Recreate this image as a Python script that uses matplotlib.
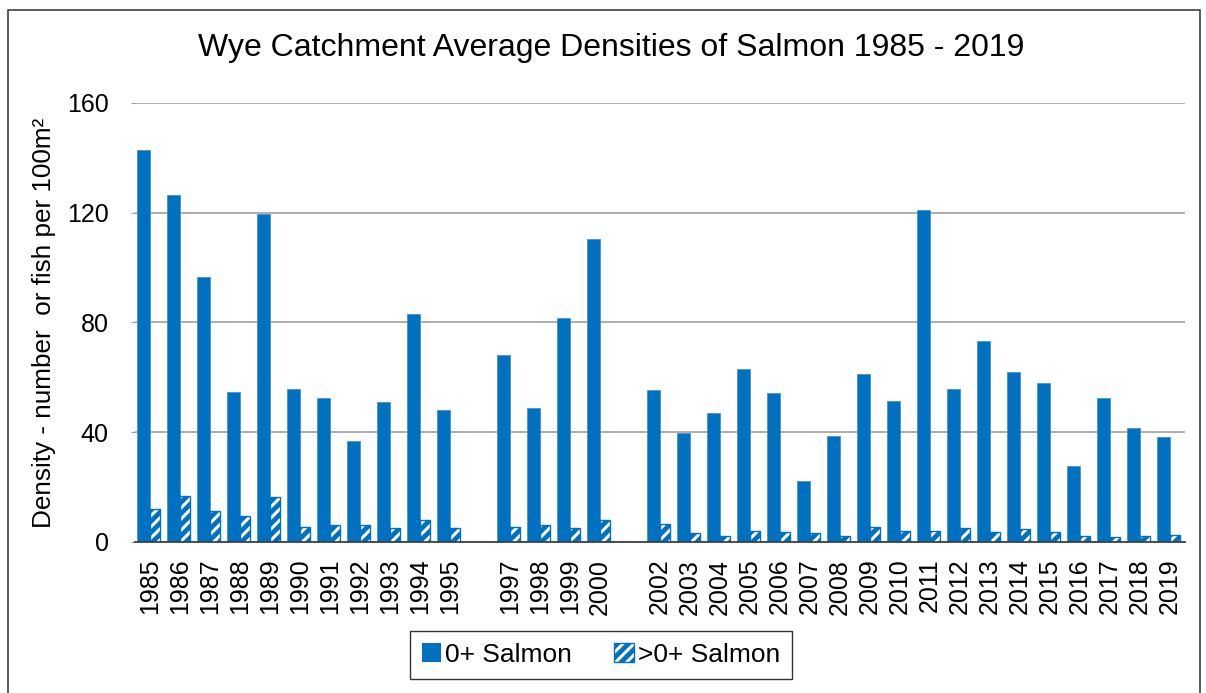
import numpy as np
import matplotlib
matplotlib.use("Agg")
import matplotlib.pyplot as plt
import matplotlib.patches as mpatches
from matplotlib.legend_handler import HandlerTuple

# Wye catchment salmon densities (fish per 100 m2), 1996 and 2001 not surveyed
years = [str(y) for y in range(1985, 2020)]
year_labels = ["" if y in ("1996", "2001") else y for y in years]

salmon_0 = [142.9, 126.3, 96.7, 54.8, 119.5, 55.8, 52.5, 36.8, 51.1, 83.2, 48.0,
            np.nan, 68.0, 49.0, 81.6, 110.3, np.nan,
            55.3, 39.9, 47.1, 63.2, 54.3, 22.2, 38.8, 61.2, 51.4, 121.1, 55.8,
            73.4, 62.1, 57.8, 27.6, 52.4, 41.7, 38.3]
salmon_gt0 = [12.0, 16.8, 11.4, 9.5, 16.4, 5.6, 6.1, 6.1, 5.2, 8.1, 5.2,
              np.nan, 5.6, 6.1, 5.1, 8.0, np.nan,
              6.6, 3.2, 2.2, 4.0, 3.5, 3.2, 2.2, 5.6, 4.1, 4.1, 5.1,
              3.6, 4.6, 3.6, 2.2, 1.7, 2.2, 2.7]

blue = "#0070C0"
plt.rcParams["font.family"] = ["Liberation Sans", "DejaVu Sans"]
plt.rcParams["hatch.linewidth"] = 2.2

fig = plt.figure(figsize=(12.06, 6.93), dpi=100)
ax = fig.add_axes([0.1119, 0.2179, 0.8706, 0.6335])

x = np.arange(len(years))
ax.bar(x - 0.22, salmon_0, width=0.445, color=blue, edgecolor="#4A90D0",
       linewidth=0.6, zorder=3)
# hatched bars: white stripes on blue, then blue outline on top
ax.bar(x + 0.165, salmon_gt0, width=0.33, color=blue, edgecolor="white",
       hatch="///", linewidth=0, zorder=3)
ax.bar(x + 0.165, salmon_gt0, width=0.33, fill=False, edgecolor=blue,
       linewidth=1.0, zorder=4)

ax.set_xlim(-0.5, len(years) - 0.5)
ax.set_ylim(0, 160)
ax.set_yticks([0, 40, 80, 120, 160])
ax.set_xticks(x)
ax.set_xticklabels(year_labels, rotation=90, fontsize=18)
ax.tick_params(axis="x", length=0, pad=12)
ax.tick_params(axis="y", labelsize=18, length=3, color="#A0A0A0", pad=16)

ax.yaxis.grid(True, color="#A0A0A0", linewidth=1.2, zorder=0)
ax.set_axisbelow(True)
for s in ("left", "right", "top"):
    ax.spines[s].set_visible(False)
ax.spines["bottom"].set_color("#404040")
ax.spines["bottom"].set_linewidth(1.3)
ax.spines["bottom"].set_zorder(5)

ax.set_ylabel("Density - number  or fish per 100m\u00b2", fontsize=18.8, labelpad=8)

fig.text(0.507, 1 - 48 / 693, "Wye Catchment Average Densities of Salmon 1985 - 2019",
         ha="center", va="center", fontsize=23)

h0 = mpatches.Patch(facecolor=blue, edgecolor=blue, linewidth=0)
h1a = mpatches.Patch(facecolor=blue, edgecolor="white", hatch="///", linewidth=0)
h1b = mpatches.Patch(fill=False, edgecolor=blue, linewidth=1.0)
leg = fig.legend([h0, (h1a, h1b)], ["0+ Salmon", ">0+ Salmon"],
                 handler_map={tuple: HandlerTuple(ndivide=1, pad=0)},
                 loc="center", bbox_to_anchor=(0.4983, 0.0548), ncol=2,
                 fontsize=19, frameon=True, fancybox=False, edgecolor="black",
                 handlelength=0.75, handleheight=0.75, handletextpad=0.15,
                 columnspacing=1.6, borderpad=0.45, borderaxespad=0)
leg.get_frame().set_linewidth(1.0)

# outer chart border
fig.patches.append(mpatches.Rectangle((8 / 1206, -0.01), 1192 / 1206, 1 - 10 / 693 + 0.01,
                                      transform=fig.transFigure, fill=False,
                                      edgecolor="#404040", linewidth=1.2))

fig.savefig("out.png", dpi=100)
